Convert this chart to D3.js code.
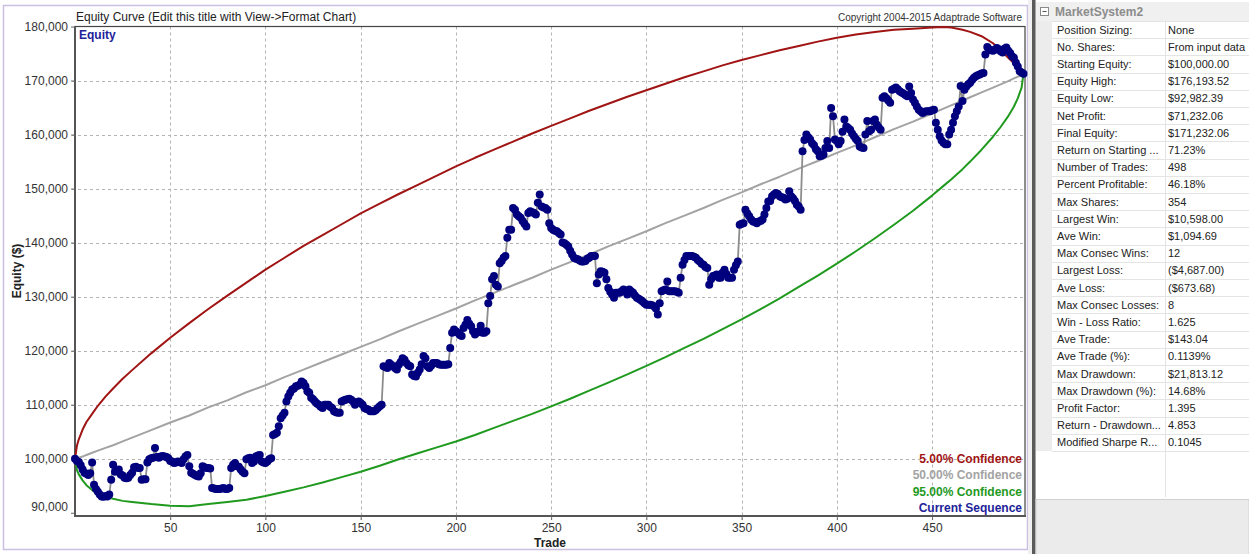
<!DOCTYPE html>
<html><head><meta charset="utf-8">
<script src="https://cdn.jsdelivr.net/npm/d3@7"></script>
<style>
body{margin:0;background:#fff;}
svg{display:block;font-family:"Liberation Sans",Arial,sans-serif;}
</style></head><body>
<svg id="chart" width="1249" height="554"></svg>
<script>
// Closed-trade equity, in $ thousands, trade 0 (start) .. 498
const equityK = [
100.0,99.6,99.4,98.8,98.0,97.4,97.2,97.0,97.3,99.3,
95.2,94.4,93.9,93.4,93.0,92.98,93.1,93.0,93.4,96.1,
98.9,97.6,97.9,98.0,97.1,96.9,96.5,96.4,96.5,97.0,
97.4,98.4,98.5,98.3,98.3,96.1,96.2,96.2,99.3,99.9,
100.1,100.2,102.0,100.3,100.2,100.4,100.5,100.4,100.3,100.1,
99.6,99.5,99.2,99.3,99.5,99.4,99.2,99.9,100.4,100.7,
98.6,97.4,97.2,97.0,96.8,96.7,97.3,98.6,98.4,98.3,
98.3,98.2,94.6,94.5,94.4,94.4,94.4,94.5,94.6,94.4,
94.4,94.6,98.3,98.9,99.2,98.6,98.5,98.0,97.6,97.3,
99.9,100.1,100.2,99.2,99.5,100.4,100.6,100.7,99.5,99.3,
99.2,99.5,99.9,100.1,104.4,104.6,104.8,106.0,107.5,108.0,
108.5,110.6,111.5,112.2,112.8,113.0,113.4,113.5,113.7,114.3,
114.0,113.4,112.5,112.2,111.3,111.0,110.6,110.2,110.0,109.6,
109.4,110.0,110.0,110.0,109.6,109.4,108.8,108.6,108.5,108.5,
110.6,110.8,110.9,111.0,111.1,110.9,110.6,110.0,110.4,110.6,
110.3,110.0,109.4,109.2,109.1,108.8,108.8,108.8,109.0,109.4,
109.7,110.0,117.1,117.0,116.8,117.7,117.4,117.1,116.8,116.5,
117.4,117.9,118.6,118.3,117.7,117.3,117.1,115.6,115.3,115.2,
115.9,116.5,117.5,119.0,118.6,117.1,116.8,117.2,117.7,117.7,
117.7,117.5,117.4,117.4,117.4,117.4,117.5,120.5,123.3,123.9,
123.6,123.3,122.9,122.7,124.2,124.8,125.7,125.0,124.5,123.6,
123.0,123.3,123.6,124.6,123.3,123.3,123.6,128.8,130.1,133.2,
133.8,132.2,131.9,136.2,136.6,137.2,137.5,140.9,142.4,142.4,
146.4,146.1,145.2,144.9,144.6,144.0,143.5,143.0,145.5,145.8,
145.6,145.5,145.2,147.4,148.9,146.7,146.5,146.4,146.1,143.6,
142.7,142.4,142.2,142.1,141.8,141.5,140.0,139.9,139.6,139.3,
138.5,137.8,137.2,137.0,136.9,136.7,136.5,136.5,136.6,137.0,
137.2,137.5,137.5,137.5,132.5,134.1,134.7,134.6,134.4,133.2,
131.6,130.9,130.4,129.8,130.7,130.7,130.7,131.0,131.3,130.9,
130.4,131.3,131.0,130.7,130.2,129.8,129.6,129.4,129.1,128.8,
128.5,128.5,128.5,128.4,128.2,127.8,126.7,128.8,131.0,131.2,
131.3,132.8,131.0,131.0,131.0,131.0,130.9,130.7,133.5,135.9,
136.8,137.5,137.5,137.5,137.5,137.4,137.2,136.8,136.5,136.1,
135.9,135.5,135.3,132.2,133.2,133.8,133.9,134.1,133.5,133.5,
134.4,135.0,134.2,133.5,133.5,133.5,135.0,135.8,136.5,143.3,
143.5,143.6,146.1,145.4,144.9,144.3,143.9,143.8,143.6,143.9,
144.0,144.3,145.2,146.4,147.6,147.7,148.6,148.9,149.2,149.0,
148.6,148.4,148.3,148.0,148.1,149.5,148.6,148.2,147.7,147.0,
146.7,146.1,156.9,159.0,160.0,159.5,159.1,158.4,158.0,157.3,
156.9,156.0,156.1,156.3,157.5,158.8,157.5,164.9,163.4,159.1,
158.8,158.2,158.8,160.5,162.8,161.5,161.2,160.9,160.2,159.7,
159.2,158.8,157.8,157.6,157.5,160.0,162.5,160.6,160.9,162.5,
162.8,161.8,161.3,160.9,166.8,167.1,166.7,166.3,165.9,168.3,
168.5,168.7,168.4,168.0,167.8,167.6,167.3,167.1,168.9,167.7,
166.5,165.9,165.2,164.6,164.3,164.0,164.2,164.3,164.3,164.3,
164.5,164.6,162.2,160.9,159.7,158.9,158.5,158.2,158.2,160.0,
160.9,162.2,163.4,164.3,165.2,169.0,166.2,168.3,168.9,169.3,
169.6,170.1,170.5,170.8,171.0,171.1,171.3,171.4,174.8,176.19,
175.8,175.6,175.5,175.7,176.0,175.8,175.4,175.2,175.9,176.1,
175.5,175.1,174.5,174.2,173.3,172.6,171.7,171.5,171.232
];

// Monte Carlo confidence bands, in $ thousands, sampled at these trades
const bandTrades = [0,1,2,4,6,9,12,16,20,25,30,40,50,60,70,80,90,100,110,120,130,140,150,160,170,180,190,200,
  210,220,230,240,250,260,270,280,290,300,310,320,330,340,350,360,370,380,390,400,410,420,430,440,450,456,460,
  466,470,476,482,486,490,493,495,497,498];
const conf05K = [100.0,102.4,103.6,105.4,106.8,108.3,109.8,111.5,113.0,114.8,116.4,119.5,122.4,125.1,127.7,130.2,
  132.6,135.0,137.2,139.4,141.4,143.4,145.4,147.2,149.0,150.7,152.4,154.1,155.7,157.2,158.7,160.2,161.6,163.0,
  164.4,165.7,167.0,168.2,169.4,170.6,171.7,172.8,173.8,174.7,175.6,176.4,177.2,177.9,178.5,179.0,179.4,179.6,
  179.8,179.9,179.8,179.4,179.0,178.2,176.9,175.6,174.2,173.2,172.6,171.8,171.232];
const conf50K = [100.0,100.1,100.2,100.4,100.7,101.1,101.5,102.0,102.5,103.2,103.9,105.3,106.7,108.0,109.5,110.8,
  112.3,113.6,115.1,116.5,117.9,119.3,120.7,122.1,123.6,125.0,126.4,127.8,129.3,130.7,132.1,133.5,135.0,136.4,
  137.8,139.3,140.7,142.1,143.6,145.0,146.4,147.9,149.3,150.8,152.2,153.7,155.1,156.6,158.0,159.5,161.0,162.4,
  163.9,164.8,165.4,166.3,166.9,167.8,168.7,169.3,169.9,170.4,170.7,171.0,171.232];
const conf95K = [100.0,97.9,97.1,96.0,95.1,94.2,93.6,93.0,92.6,92.2,92.0,91.6,91.3,91.2,91.6,92.0,
  92.4,93.1,93.9,94.7,95.6,96.6,97.6,98.7,99.9,101.0,102.1,103.2,104.4,105.7,107.0,108.3,109.7,111.1,
  112.6,114.1,115.6,117.2,118.8,120.5,122.2,124.0,125.8,127.7,129.7,131.8,133.9,136.1,138.4,140.8,143.3,145.9,
  148.7,150.5,151.7,153.6,155.0,157.2,159.6,161.4,163.4,165.2,166.7,168.7,171.232];

const xTicks = [50,100,150,200,250,300,350,400,450];
const yTicks = [90000,100000,110000,120000,130000,140000,150000,160000,170000,180000];

const legendItems = [
  {label:"5.00% Confidence", color:"#a01414"},
  {label:"50.00% Confidence", color:"#a3a3a3"},
  {label:"95.00% Confidence", color:"#1f9a1f"},
  {label:"Current Sequence", color:"#22229a"}
];

const statLabels = ["Position Sizing:","No. Shares:","Starting Equity:","Equity High:","Equity Low:","Net Profit:",
  "Final Equity:","Return on Starting ...","Number of Trades:","Percent Profitable:","Max Shares:","Largest Win:",
  "Ave Win:","Max Consec Wins:","Largest Loss:","Ave Loss:","Max Consec Losses:","Win - Loss Ratio:","Ave Trade:",
  "Ave Trade (%):","Max Drawdown:","Max Drawdown (%):","Profit Factor:","Return - Drawdown...","Modified Sharpe R..."];
const statValues = ["None","From input data","$100,000.00","$176,193.52","$92,982.39","$71,232.06","$171,232.06",
  "71.23%","498","46.18%","354","$10,598.00","$1,094.69","12","($4,687.00)","($673.68)","8","1.625","$143.04",
  "0.1139%","$21,813.12","14.68%","1.395","4.853","0.1045"];

const svg = d3.select("#chart");

// ---------- chart panel ----------
const plot = {left:75, right:1025, top:26.5, bottom:516};
const x = d3.scaleLinear().domain([0, 498.8]).range([plot.left, plot.right]);
const y = d3.scaleLinear().domain([89400, 180000]).range([plot.bottom, plot.top]);

svg.append("rect").attr("x",3.5).attr("y",5.5).attr("width",1024).attr("height",544)
  .attr("fill","#fff").attr("stroke","#cbbfe2").attr("stroke-width",1.5);

// grid
const grid = svg.append("g").attr("stroke","#b4b4b4").attr("stroke-dasharray","3,3").attr("stroke-width",1);
grid.selectAll("line.v").data(xTicks).join("line")
  .attr("x1",d=>Math.round(x(d))+0.5).attr("x2",d=>Math.round(x(d))+0.5)
  .attr("y1",plot.top).attr("y2",plot.bottom+4);
grid.selectAll("line.h").data(yTicks.filter(d=>d>90000 && d<180000)).join("line")
  .attr("x1",plot.left-3).attr("x2",plot.right)
  .attr("y1",d=>Math.round(y(d))+0.5).attr("y2",d=>Math.round(y(d))+0.5);

// frame
svg.append("rect").attr("x",plot.left).attr("y",plot.top).attr("width",plot.right-plot.left)
  .attr("height",plot.bottom-plot.top).attr("fill","none").attr("stroke","#444").attr("stroke-width",1.2);
svg.append("line").attr("x1",plot.left).attr("x2",plot.left).attr("y1",plot.top).attr("y2",plot.bottom+1)
  .attr("stroke","#555").attr("stroke-width",2);
svg.append("line").attr("x1",plot.left-1).attr("x2",plot.right+1).attr("y1",plot.bottom).attr("y2",plot.bottom)
  .attr("stroke","#555").attr("stroke-width",2);

// axes labels
const yAxis = d3.axisLeft(y).tickValues(yTicks).tickSize(4).tickFormat(d3.format(","));
const gy = svg.append("g").attr("transform",`translate(${plot.left},0)`).call(yAxis);
gy.select(".domain").remove();
gy.selectAll(".tick line").attr("stroke","#666");
gy.selectAll(".tick text").attr("font-size",12).attr("fill","#333").attr("font-family","Liberation Sans, Arial, sans-serif")
  .attr("dy", d => d===90000 ? "-0.15em" : "0.32em");

const xAxis = d3.axisBottom(x).tickValues(xTicks).tickSize(4).tickPadding(3);
const gx = svg.append("g").attr("transform",`translate(0,${plot.bottom})`).call(xAxis);
gx.select(".domain").remove();
gx.selectAll(".tick line").attr("stroke","#666");
gx.selectAll(".tick text").attr("font-size",12).attr("fill","#333").attr("font-family","Liberation Sans, Arial, sans-serif");

// titles
svg.append("text").attr("x",76).attr("y",21).attr("font-size",12).attr("fill","#222")
  .text("Equity Curve (Edit this title with View->Format Chart)");
svg.append("text").attr("x",1022).attr("y",21).attr("text-anchor","end").attr("font-size",10).attr("fill","#333")
  .text("Copyright 2004-2015 Adaptrade Software");
svg.append("text").attr("x",79).attr("y",39).attr("font-size",12).attr("font-weight","bold").attr("fill","#22229a")
  .text("Equity");
svg.append("text").attr("transform","translate(21,271) rotate(-90)").attr("text-anchor","middle")
  .attr("font-size",12).attr("font-weight","bold").attr("fill","#222").text("Equity ($)");
svg.append("text").attr("x",550).attr("y",547).attr("text-anchor","middle")
  .attr("font-size",12).attr("font-weight","bold").attr("fill","#222").text("Trade");

// confidence bands
const bandLine = d3.line().x((d,i)=>x(bandTrades[i])).y(d=>y(d*1000));
[[conf05K,"#a01414"],[conf95K,"#1f9a1f"],[conf50K,"#a3a3a3"]].forEach(([arr,col])=>{
  svg.append("path").datum(arr).attr("d",bandLine).attr("fill","none").attr("stroke",col)
    .attr("stroke-width",2).attr("stroke-linejoin","round");
});

// current sequence
const eqLine = d3.line().x((d,i)=>x(i)).y(d=>y(d*1000));
svg.append("path").datum(equityK).attr("d",eqLine).attr("fill","none").attr("stroke","#8c8c8c").attr("stroke-width",1.8);
svg.append("g").selectAll("circle").data(equityK).join("circle")
  .attr("cx",(d,i)=>x(i)).attr("cy",d=>y(d*1000)).attr("r",4).attr("fill","#00007f");

// legend
svg.append("g").selectAll("text").data(legendItems).join("text")
  .attr("x",1022).attr("y",(d,i)=>463+i*16.3).attr("text-anchor","end")
  .attr("font-size",12).attr("font-weight","bold").attr("fill",d=>d.color).text(d=>d.label);

// ---------- statistics panel ----------
const panel = {left:1036, right:1249, rowTop:21, rowH:17.2, split:1165, indent:1052};
svg.append("rect").attr("x",1028).attr("y",0).attr("width",221).attr("height",554).attr("fill","#f0f0f0");
svg.append("rect").attr("x",1032).attr("y",0).attr("width",3.5).attr("height",554).attr("fill","#5a5a5a");
svg.append("rect").attr("x",panel.left).attr("y",0).attr("width",panel.right-panel.left).attr("height",499).attr("fill","#fff");
svg.append("rect").attr("x",panel.left).attr("y",2).attr("width",panel.right-panel.left).attr("height",panel.rowTop-2).attr("fill","#f0f0f0");
svg.append("rect").attr("x",panel.left).attr("y",panel.rowTop).attr("width",panel.indent-panel.left)
  .attr("height",statLabels.length*panel.rowH).attr("fill","#ececec");
// collapse box
svg.append("rect").attr("x",1040.5).attr("y",7.5).attr("width",8).attr("height",8).attr("fill","#fff").attr("stroke","#8a8a8a");
svg.append("line").attr("x1",1042.5).attr("x2",1046.5).attr("y1",11.5).attr("y2",11.5).attr("stroke","#555");
svg.append("text").attr("x",1055).attr("y",16).attr("font-size",12).attr("font-weight","bold").attr("fill","#8c8c8c")
  .text("MarketSystem2");

const rows = svg.append("g");
rows.selectAll("line.r").data(d3.range(statLabels.length+1)).join("line")
  .attr("x1",panel.indent).attr("x2",panel.right)
  .attr("y1",i=>Math.round(panel.rowTop+i*panel.rowH)+0.5).attr("y2",i=>Math.round(panel.rowTop+i*panel.rowH)+0.5)
  .attr("stroke","#e4e4e4");
rows.append("line").attr("x1",panel.split+0.5).attr("x2",panel.split+0.5).attr("y1",panel.rowTop).attr("y2",497)
  .attr("stroke","#e4e4e4");
rows.selectAll("text.l").data(statLabels).join("text")
  .attr("x",1057).attr("y",(d,i)=>panel.rowTop+i*panel.rowH+12.5).attr("font-size",11).attr("fill","#222").text(d=>d);
rows.selectAll("text.v").data(statValues).join("text")
  .attr("x",1168).attr("y",(d,i)=>panel.rowTop+i*panel.rowH+12.5).attr("font-size",11).attr("fill","#222").text(d=>d);

svg.append("rect").attr("x",panel.left).attr("y",499.5).attr("width",panel.right-panel.left).attr("height",60)
  .attr("fill","#ebebeb").attr("stroke","#d0d0d0");
</script>
</body></html>
